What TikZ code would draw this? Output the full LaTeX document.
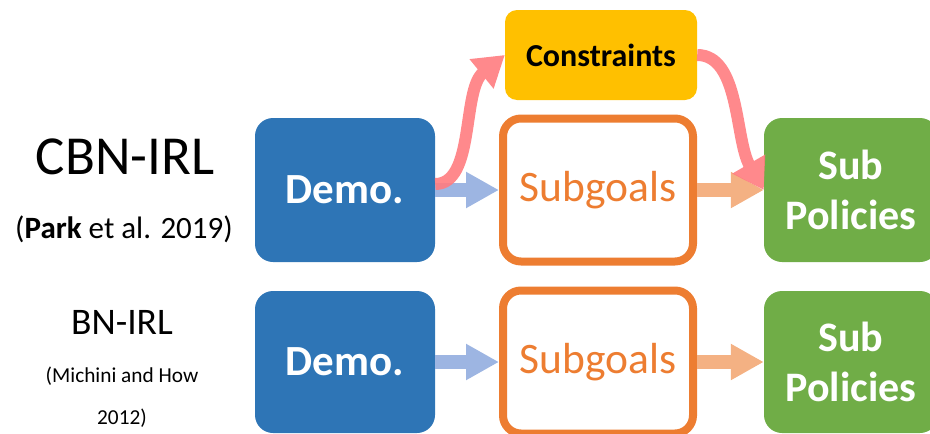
\documentclass[tikz,border=0pt]{standalone}
\usepackage{fontspec}
\setmainfont{Carlito}
\usetikzlibrary{arrows.meta}

\definecolor{demoblue}{HTML}{2E75B6}
\definecolor{goalorange}{HTML}{ED7D31}
\definecolor{consyellow}{HTML}{FFC000}
\definecolor{polgreen}{HTML}{70AD47}
\definecolor{flowblue}{HTML}{9DB5E2}
\definecolor{flowpeach}{HTML}{F4B183}
\definecolor{flowpink}{HTML}{FF7C80}

\newcommand{\fsize}[1]{\fontsize{#1}{#1}\selectfont}

\begin{document}
\begin{tikzpicture}
  [x=1pt,y=-1pt,every node/.style={inner sep=0pt,align=center},
   demo/.style={rectangle,rounded corners=18pt,fill=demoblue,text=white,
     font=\bfseries\fsize{43},minimum width=180pt,minimum height=142pt},
   goal/.style={rectangle,rounded corners=18pt,draw=goalorange,line width=8pt,
     fill=white,text=goalorange,font=\fsize{43.5},minimum width=190pt,minimum height=143pt},
   pol/.style={rectangle,rounded corners=18pt,fill=polgreen,text=white,
     font=\bfseries\fontsize{42}{50}\selectfont,minimum width=174pt,minimum height=142pt},
   cons/.style={rectangle,rounded corners=12pt,fill=consyellow,
     font=\bfseries\fsize{32},minimum width=192pt,minimum height=90pt},
   flow/.style={line width=14pt,-{Triangle[length=33pt,width=34pt]}},
   detour/.style={line width=12pt,flowpink,-{Triangle[length=30pt,width=36pt]}}]
  \useasboundingbox (0,0) rectangle (930,434);
  \clip (0,0) rectangle (930,434);

  % method names
  \node[font=\fsize{55}] (m1) at (125,157) {CBN-IRL};
  \node[font=\fsize{31}] (r1) at (124,229) {(\textbf{Park} et al. 2019)};
  \node[font=\fsize{37.5}] (m2) at (122,322) {BN-IRL};
  \node[font=\fsize{21.3}] (r2) at (122,376) {(Michini and How};
  \node[font=\fsize{21.3}] (r3) at (122,418) {2012)};

  % upper row
  \node[demo,minimum height=144pt] (d1) at (345,190) {Demo.};
  \node[goal] (g1) at (598,190) {\raisebox{-3pt}{Subgoals}};
  \node[pol,minimum height=144pt] (p1) at (851,190) {Sub\\Policies};
  \node[cons] (c) at (601,55) {Constraints};

  % lower row
  \node[demo] (d2) at (345,362) {Demo.};
  \node[goal] (g2) at (598,362) {\raisebox{-3pt}{Subgoals}};
  \node[pol] (p2) at (851,362) {Sub\\Policies};

  \foreach \from/\to in {d1/g1,d2/g2}
    \draw[flow,flowblue] (\from) -- (\to);
  \foreach \from/\to in {g1/p1,g2/p2}
    \draw[flow,flowpeach] (\from) -- (\to);

  % curved links through the constraints
  \begin{scope}[transparency group,opacity=.9]
    \draw[detour] ([yshift=6pt]d1.east) .. controls +(40,0) and +(-43,35) .. (c.west);
  \end{scope}
  \begin{scope}[transparency group,opacity=.9]
    \draw[detour] (c.east) .. controls +(43,0) and +(-29,-50) .. (p1.west);
  \end{scope}
\end{tikzpicture}
\end{document}
